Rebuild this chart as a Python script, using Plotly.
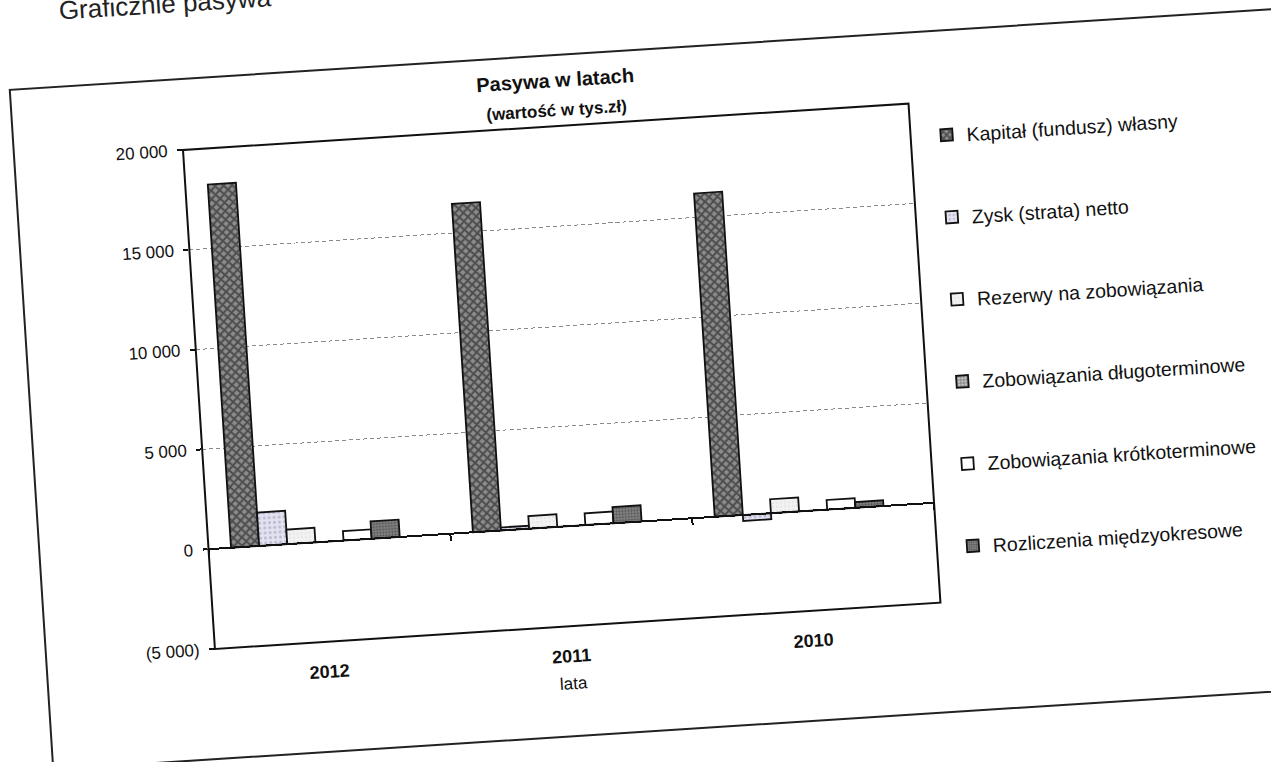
import plotly.graph_objects as go

# --- data (thousand PLN) ---
years = ["2012", "2011", "2010"]

series_names = [
    "Kapitał (fundusz) własny",
    "Zysk (strata) netto",
    "Rezerwy na zobowiązania",
    "Zobowiązania długoterminowe",
    "Zobowiązania krótkoterminowe",
    "Rozliczenia międzyokresowe",
]

kapital = [18200, 16450, 16200]
zysk = [1670, 150, -300]
rezerwy = [730, 630, 700]
dlugoterminowe = [0, 0, 0]
krotkoterminowe = [470, 590, 480]
rozliczenia = [870, 810, 285]

y_tick_vals = [-5000, 0, 5000, 10000, 15000, 20000]
y_tick_text = ["(5 000)", "0", "5 000", "10 000", "15 000", "20 000"]

x_title = "lata"
chart_title = "Pasywa w latach"
chart_subtitle = "(wartość w tys.zł)"
page_heading = "Graficznie pasywa"

series_values = [kapital, zysk, rezerwy, dlugoterminowe, krotkoterminowe, rozliczenia]

# fill styles (pattern fills as in a monochrome office chart)
fills = [
    dict(color="#8c8c8c", pattern=dict(shape="x", fgcolor="#0c0c0c", size=6, solidity=0.55, fillmode="overlay")),
    dict(color="#e2e2f0", pattern=dict(shape=".", fgcolor="#8c8cae", size=5, solidity=0.25, fillmode="overlay")),
    dict(color="#f2f2f2", pattern=dict(shape=".", fgcolor="#c4c4c4", size=4, solidity=0.15, fillmode="overlay")),
    dict(color="#c8c8c8", pattern=dict(shape="+", fgcolor="#222222", size=4, solidity=0.4, fillmode="overlay")),
    dict(color="#ffffff", pattern=dict(shape="")),
    dict(color="#8e8e8e", pattern=dict(shape=".", fgcolor="#222222", size=3, solidity=0.5, fillmode="overlay")),
]

# grouped layout: seven slots per category (last one unused), gap of 1.6 bar widths
n_slots = 7
group_gap = 1.6
bar_w = 1.0 / (n_slots + group_gap)
lead = group_gap / 2 * bar_w

FONT = "Liberation Sans, Arial, Helvetica, sans-serif"
INK = "#111111"

fig = go.Figure()
for i, (name, vals, fill) in enumerate(zip(series_names, series_values, fills)):
    fig.add_trace(
        go.Bar(
            x=years,
            y=vals,
            name=name,
            legendgroup=name,
            width=bar_w,
            offset=-0.5 + lead + i * bar_w,
            marker=dict(color=fill["color"], pattern=fill["pattern"],
                        line=dict(color=INK, width=1.8)),
            hoverinfo="skip",
        )
    )

# year labels sit low, under the plot frame (x given as category index);
# the axis title goes below the middle one
year_labels = [
    dict(text=f"<b>{yr}</b>", xref="x", x=idx, yref="paper", y=-0.06,
         xanchor="center", yanchor="middle", xshift=-8, showarrow=False,
         font=dict(size=18, color=INK))
    for idx, yr in enumerate(years)
]
axis_title = dict(text=x_title, xref="x", x=len(years) // 2, yref="paper", y=-0.114,
                  xanchor="center", yanchor="middle", xshift=-8, showarrow=False,
                  font=dict(size=17, color=INK))
subtitle = dict(text=f"<b>{chart_subtitle}</b>", xref="paper", x=0.517, yref="paper", y=1.032,
                xanchor="center", yanchor="middle", showarrow=False,
                font=dict(size=17, color=INK))
heading = dict(text=page_heading, xref="paper", yref="paper",
               x=-0.161, y=1.295, xanchor="left", yanchor="middle",
               showarrow=False, font=dict(size=26, color="#222222"))

fig.update_layout(
    width=1271,
    height=762,
    margin=dict(l=183, r=361, t=150, b=112),
    paper_bgcolor="white",
    plot_bgcolor="white",
    barmode="overlay",
    showlegend=True,
    font=dict(family=FONT, color=INK),
    title=dict(
        text=f"<b>{chart_title}</b>",
        font=dict(size=20, color=INK),
        x=0.517, xref="paper", xanchor="center",
        y=1 - 104 / 762, yref="container", yanchor="middle",
    ),
    yaxis=dict(
        range=[-5000, 20000],
        tickmode="array",
        tickvals=y_tick_vals,
        ticktext=y_tick_text,
        ticks="outside",
        ticklen=5,
        tickwidth=1.5,
        tickcolor=INK,
        tickfont=dict(size=17, color=INK),
        ticklabelstandoff=6,
        showgrid=True,
        gridcolor="#8a8a8a",
        gridwidth=1,
        griddash="4px,3px",
        zeroline=False,
        showline=False,
    ),
    # category axis drawn along the zero line
    xaxis=dict(
        type="category",
        range=[-0.5, 2.5],
        anchor="free",
        position=0.2,
        showline=True,
        linecolor=INK,
        linewidth=2,
        ticks="outside",
        tickson="boundaries",
        ticklen=6,
        tickwidth=1.5,
        tickcolor=INK,
        showticklabels=False,
        showgrid=False,
        zeroline=False,
    ),
    legend=dict(
        x=1.022, xanchor="left",
        y=0.971, yanchor="top",
        font=dict(size=19.5, color=INK),
        tracegroupgap=54,
        bgcolor="rgba(0,0,0,0)",
        itemclick=False,
        itemdoubleclick=False,
    ),
    shapes=[
        # plot-area frame
        dict(type="rect", xref="paper", yref="paper", x0=0, x1=1, y0=0, y1=1,
             line=dict(color=INK, width=2), layer="above"),
        # chart-area border
        dict(type="rect", xref="paper", yref="paper", x0=-0.2325, x1=1.54, y0=-0.22, y1=1.142,
             line=dict(color="#222222", width=2), layer="above"),
    ],
    annotations=year_labels + [axis_title, subtitle, heading],
)

# the page is a slightly skewed scan: tilt the whole chart a few degrees
tilt_js = """
var gd = document.getElementById('{plot_id}');
document.documentElement.style.overflow = 'hidden';
document.body.style.margin = '0';
document.body.style.overflow = 'hidden';
gd.style.transformOrigin = '183px 150px';
gd.style.transform = 'rotate(-3.66deg)';
gd.querySelectorAll('svg').forEach(function (s) { s.style.overflow = 'visible'; });
"""

fig.write_html("out.html", config={"displayModeBar": False}, post_script=tilt_js)
